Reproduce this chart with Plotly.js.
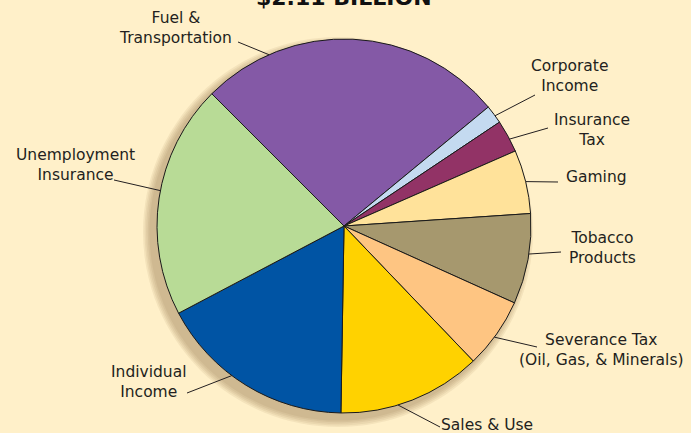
<!DOCTYPE html>
<html>
<head>
<meta charset="utf-8">
<script src="https://cdn.plot.ly/plotly-3.0.1.min.js"></script>
<style>html,body{margin:0;padding:0;background:#FFF0C9;}#chart{width:691px;height:433px;}</style>
</head>
<body>
<div id="chart"></div>
<script>
// ---- data ----
const titleText = '$2.11 BILLION';
const categories = ['Fuel & Transportation', 'Corporate Income', 'Insurance Tax', 'Gaming', 'Tobacco Products',
  'Severance Tax (Oil, Gas, & Minerals)', 'Sales & Use', 'Individual Income', 'Unemployment Insurance'];
const labelText = ['Fuel &<br>Transportation', 'Corporate<br>Income', 'Insurance<br>Tax', 'Gaming', 'Tobacco<br>Products',
  'Severance Tax<br>(Oil, Gas, & Minerals)', 'Sales & Use', 'Individual<br>Income', 'Unemployment<br>Insurance'];
const sharePct = [26.5, 1.6, 2.8, 5.5, 7.8, 6.1, 12.4, 17.0, 20.2];
const sliceColors = ['#8459A6', '#C4DAF0', '#923366', '#FFE29A', '#A6986E', '#FEC582', '#FFD200', '#0054A4', '#B8DB96'];

// ---- label layout (pixels) ----
const W = 691, H = 433;
const cx = 344, cy = 226, R = 187;
const rotationDeg = -45;
const labelCenter = [[176, 28], [570, 76], [592, 130], [596, 177], [602, 248], [601, 350], [487, 425], [149, 382], [75, 165]];
const lineTail = [[238, 42], [535, 95], [548, 128], [558, 182], [561, 252], [537, 347], [440, 427], [187, 393], [114, 180]];
const anchorOffsetDeg = [26.4, -0.5, -1, 0, 1.6, -1.2, -4.6, -5.3, -2.3];

const px2x = p => p / W;
const py2y = p => 1 - p / H;

const traces = [];
// soft shadow layers (lower-left)
for (let k = 5; k >= 1; k--) {
  const r = R + k * 1.6, sx = cx - 6, sy = cy + 6;
  traces.push({
    type: 'pie', values: [1], labels: ['shadow'], sort: false,
    marker: {colors: ['rgba(130,100,50,0.09)'], line: {width: 0}},
    textinfo: 'none', hoverinfo: 'skip', showlegend: false,
    domain: {x: [px2x(sx - r), px2x(sx + r)], y: [py2y(sy + r), py2y(sy - r)]}
  });
}
traces.push({
  type: 'pie', values: sharePct, labels: categories, sort: false,
  direction: 'clockwise', rotation: rotationDeg,
  marker: {colors: sliceColors, line: {color: '#1a1a1a', width: 1}},
  textinfo: 'none', hoverinfo: 'label+value', showlegend: false,
  domain: {x: [px2x(cx - R), px2x(cx + R)], y: [py2y(cy + R), py2y(cy - R)]}
});

const total = sharePct.reduce((a, b) => a + b, 0);
const startAngle = 90 - rotationDeg;
const annotations = [];
const shapes = [];
let cum = 0;
sharePct.forEach((v, i) => {
  const mid = startAngle - 360 * (cum + v / 2) / total + anchorOffsetDeg[i];
  cum += v;
  const a = mid * Math.PI / 180;
  const ex = cx + R * Math.cos(a), ey = cy - R * Math.sin(a);
  shapes.push({type: 'line', xref: 'paper', yref: 'paper',
    x0: px2x(lineTail[i][0]), y0: py2y(lineTail[i][1]), x1: px2x(ex), y1: py2y(ey),
    line: {color: '#231F20', width: 1}});
  annotations.push({xref: 'paper', yref: 'paper', x: px2x(labelCenter[i][0]), y: py2y(labelCenter[i][1]),
    xanchor: 'center', yanchor: 'middle', align: 'center', showarrow: false, text: labelText[i],
    font: {family: 'DejaVu Sans', size: 15.5, color: '#231F20'}});
});
annotations.push({xref: 'paper', yref: 'paper', x: px2x(cx), y: 1, xanchor: 'center', yanchor: 'middle',
  yshift: 3, showarrow: false, text: '<b>' + titleText + '</b>',
  font: {family: 'DejaVu Sans', size: 22, color: '#111111'}});

const layout = {
  width: W, height: H, margin: {l: 0, r: 0, t: 0, b: 0},
  paper_bgcolor: '#FFF0C9', plot_bgcolor: '#FFF0C9',
  showlegend: false, annotations: annotations, shapes: shapes
};
Plotly.newPlot('chart', traces, layout, {displayModeBar: false, staticPlot: true});
</script>
</body>
</html>
